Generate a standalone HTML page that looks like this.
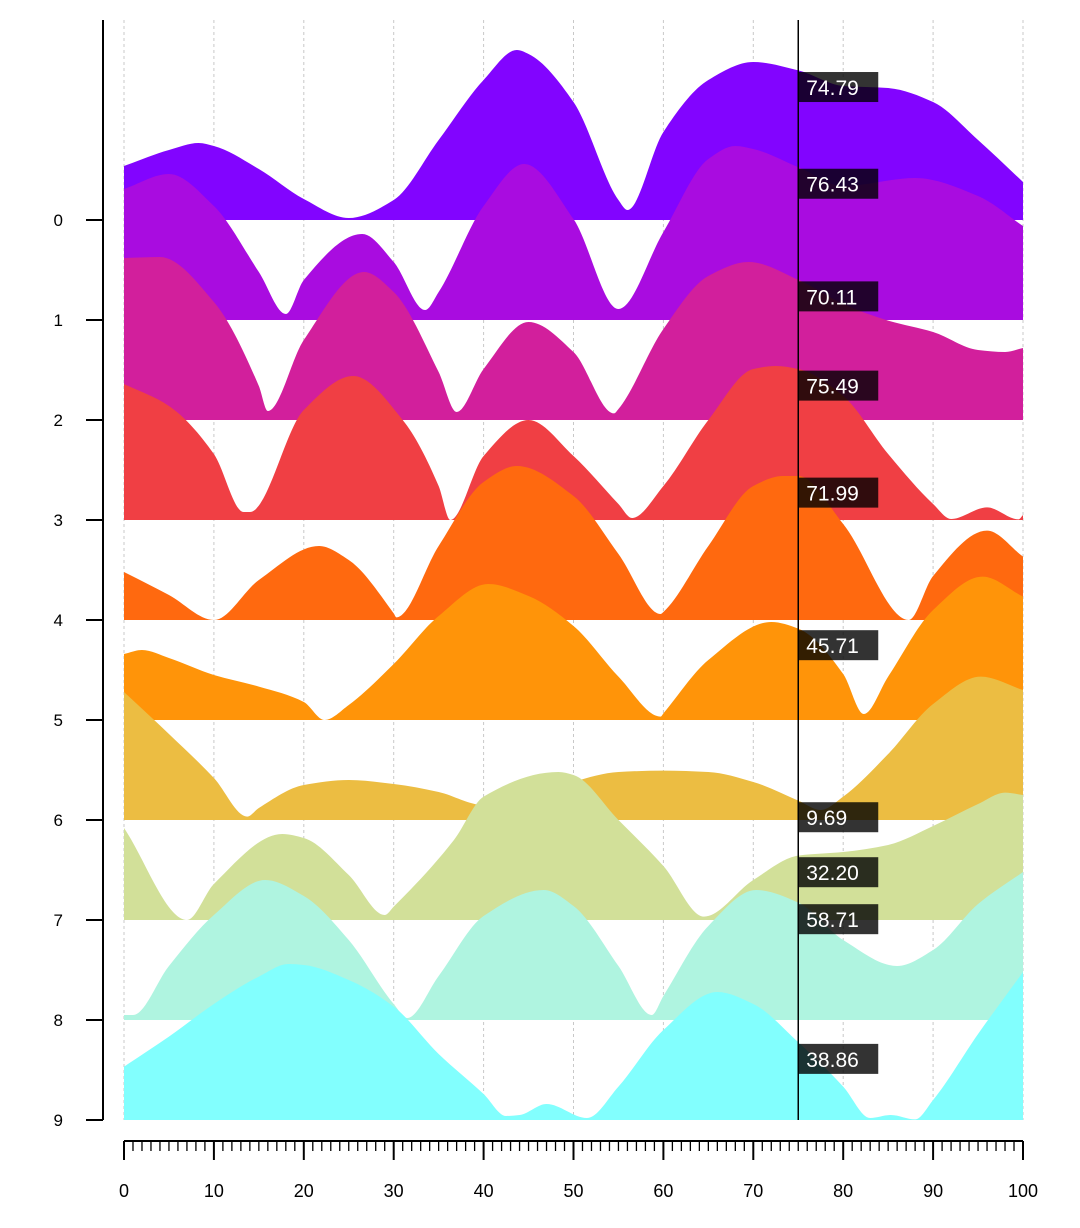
<!DOCTYPE html>
<html><head><meta charset="utf-8"><style>
html,body{margin:0;padding:0;background:#fff;}
svg{display:block;font-family:"Liberation Sans",Arial,sans-serif;}
</style></head><body>
<svg id="chart" width="1080" height="1228" viewBox="0 0 1080 1228" xmlns="http://www.w3.org/2000/svg"></svg>
<script>
const s0x=[0,5,8.3,10,15,20,25,30,35,40,43.7,45,50,55,56,60,65,70,75,80,85,90,95,100];
const s0v=[27,35,38.5,37,25.5,10.5,1,10,40,70,85,83,59,10,5,44,70,79,74.79,67,66,59,40,19];
const s1x=[0,5,10,15,18,20,26.5,30,33.5,35,40,44.5,50,55,60,65,68,70,75,80,88,95,100];
const s1v=[65.5,73,57,24,3,20,43,29,5,14,57,78,50.5,5.5,44,80.5,87,85.5,76.43,67,71,62,47];
const s2x=[0,4,10,15,16,20,26.7,30,35,37,40,45,50,54.5,55,60,65,69.5,75,80,85,90,95,98,100];
const s2v=[81,81.5,59,17,4.5,40,74,64,24,4,25.5,49,34,3.3,5.5,45.5,72,79,70.11,58,49.7,44,35,34,36];
const s3x=[0,5,10,13.3,14,20,25.5,31,35,36.3,40,45,50,55,56.5,60,65,70,72.5,75,80,85,90,92,96,99.5,100];
const s3v=[68,57,33,4,4,55,72,50,17,0,32,50,32,8,1,17,50,75.5,77,75.49,62,33,8,0.5,6.3,0.3,2.5];
const s4x=[0,5,10,15,21.7,25,30,30.3,35,40,43.7,50,55,59.7,60,65,70,73.3,75,80,87.3,90,96,100];
const s4v=[24,12.5,0,20,37,30,3.3,1.3,37,69,77,62,33,3,4,37,67,72,71.99,48,0,22,44.7,31.7];
const s5x=[0,2,5,10,15,20,22.3,25,30,35,40.5,45,50,55,59.7,60,65,72,75,80,82.3,85,90,95.5,100];
const s5v=[33,35,31,22.5,16.7,9,0,7.5,28,52,68,62,47,21.7,1.7,3.3,30,49,45.71,23,3,21.7,55,71.7,61.7];
const s6x=[0,5,10,13.7,15,20,25,30,35,40,45,50,55,60,65,70,75,77.5,80,85,90,95.3,100];
const s6v=[64,43,21,1.7,6,17.5,20,18,14,7.5,8,19,24,24.7,24,19,9.69,5,11.7,33,58,71.7,65];
const s7x=[0,7,10,17.6,20,25,29,30,36.7,40,48.3,50,55,60,64.5,70,75,80,85,90,95,98,100];
const s7v=[46,0,18,43,41,22.5,2.5,6.7,40,61.7,74,72.5,50,27,1.7,20,32.20,34,37.5,47,58,63.7,62.5];
const s8x=[0,1,5,10,15.7,20,25,30,31.5,35,40,46.7,50,55,58.7,60,65,70.3,75,80,86,90,95,100];
const s8v=[2.5,2.5,27,52.5,70,62,40,8,1,22,52,65,57,27,2.5,12,47,65,58.71,40,27,35,58,74];
const s9x=[0,5,10,15,18.3,20,25,30,35,40,42.5,44,47,51.5,55,60,66,70,75,80,83,85.3,88,90,95,100];
const s9v=[26.7,41.7,58,71.7,78,77.5,70,56.7,33,13,2,2.5,8,1,16.7,45,64,58,38.86,16.7,1,2.5,0.3,10,43,74];
const seriesNames=["0","1","2","3","4","5","6","7","8","9"];
const xTicks=[0,10,20,30,40,50,60,70,80,90,100];
const hoverX=75;
const colors=["#8204ff","#a90ce0","#d21f9c","#f03f44","#ff690f","#ff9409","#ecbd42","#d2e099","#aff4e0","#82fffe"];
const SX=[s0x,s1x,s2x,s3x,s4x,s5x,s6x,s7x,s8x,s9x];
const SV=[s0v,s1v,s2v,s3v,s4v,s5v,s6v,s7v,s8v,s9v];

const NS="http://www.w3.org/2000/svg";
const svg=document.getElementById('chart');
const X0=124,X1=1023;
function xs(u){return X0+(X1-X0)*u/100;}
function base(i){return 220+100*i;}
function ys(i,v){return base(i)-2*v;}
function mk(t,a,p){const e=document.createElementNS(NS,t);for(const k in a)e.setAttribute(k,a[k]);(p||svg).appendChild(e);return e;}

function monoPath(px,py){
  const n=px.length;const d=[],m=[];
  for(let k=0;k<n-1;k++)d.push((py[k+1]-py[k])/(px[k+1]-px[k]));
  for(let k=0;k<n;k++){
    if(k===0)m.push(d[0]);else if(k===n-1)m.push(d[n-2]);
    else{ if(d[k-1]*d[k]<=0)m.push(0);else{const h0=px[k]-px[k-1],h1=px[k+1]-px[k];m.push(3*(h0+h1)/((2*h1+h0)/d[k-1]+(h1+2*h0)/d[k]));}}
  }
  let s="";
  for(let k=0;k<n-1;k++){const h=(px[k+1]-px[k])/3;
    s+=" C"+(px[k]+h)+","+(py[k]+m[k]*h)+" "+(px[k+1]-h)+","+(py[k+1]-m[k+1]*h)+" "+px[k+1]+","+py[k+1];}
  return s;
}
function valueAt(xa,va,u){
  for(let k=0;k<xa.length-1;k++){if(u>=xa[k]&&u<=xa[k+1]){const t=(u-xa[k])/(xa[k+1]-xa[k]);return va[k]+t*(va[k+1]-va[k]);}}
  return va[va.length-1];
}

const grid=mk('g',{});


xTicks.forEach(t=>{const l=mk('line',{x1:xs(t),x2:xs(t),y1:20,y2:1120,stroke:'#c8c8c8','stroke-dasharray':'3,3','stroke-width':1},grid);
  
  });

for(let i=0;i<SX.length;i++){
  const px=SX[i].map(xs),py=SV[i].map(v=>ys(i,v));
  const d="M"+px[0]+","+base(i)+" L"+px[0]+","+py[0]+monoPath(px,py)+" L"+px[px.length-1]+","+base(i)+" Z";
  const p=mk('path',{d:d,fill:colors[i]});
  
  
}

const ya=mk('g',{});


mk('line',{x1:103,x2:103,y1:20,y2:1120,stroke:'#000','stroke-width':2},ya);
seriesNames.forEach((n,i)=>{
  mk('line',{x1:86,x2:103,y1:base(i),y2:base(i),stroke:'#000','stroke-width':2},ya);
  const t=mk('text',{x:63,y:base(i)+6,'text-anchor':'end','font-size':17,fill:'#000'},ya);t.textContent=n;
  
  
});

const xa=mk('g',{});


mk('line',{x1:X0,x2:X1,y1:1141,y2:1141,stroke:'#000','stroke-width':2},xa);
for(let u=0;u<=100;u++){const maj=u%10===0;
  mk('line',{x1:xs(u),x2:xs(u),y1:1141,y2:maj?1160:1151,stroke:'#000','stroke-width':maj?2:1.3},xa);}
xTicks.forEach(t=>{const e=mk('text',{x:xs(t),y:1197,'text-anchor':'middle','font-size':18,fill:'#000'},xa);e.textContent=t;
  
  });

const hl=mk('line',{x1:xs(hoverX),x2:xs(hoverX),y1:20,y2:1120,stroke:'#000','stroke-width':1.5});


for(let i=0;i<SX.length;i++){
  const v=valueAt(SX[i],SV[i],hoverX);
  const g=mk('g',{});
  
  
  const top=ys(i,v)+1.6;
  mk('rect',{x:xs(hoverX),y:top,width:80,height:30,fill:'rgba(0,0,0,0.8)'},g);
  const t=mk('text',{x:xs(hoverX)+8,y:top+23,'font-size':21,fill:'#fff'},g);
  t.textContent=v.toFixed(2);
}
</script>
</body></html>
